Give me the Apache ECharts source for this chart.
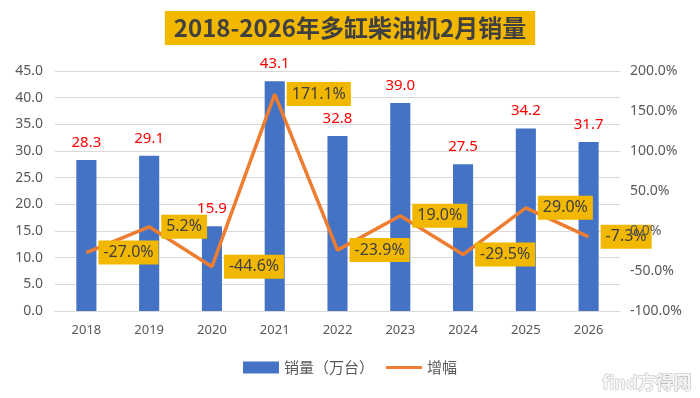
<!DOCTYPE html>
<html>
<head>
<meta charset="utf-8">
<script src="https://cdn.jsdelivr.net/npm/echarts@6/dist/echarts.min.js"></script>
<style>
  html, body { margin: 0; padding: 0; background: #fff; }
  #main { width: 700px; height: 398px; }
</style>
</head>
<body>
<div id="main"></div>
<script>
// 数据
var years = ['2018', '2019', '2020', '2021', '2022', '2023', '2024', '2025', '2026'];
var sales = [28.3, 29.1, 15.9, 43.1, 32.8, 39.0, 27.5, 34.2, 31.7];
var growth = [-27.0, 5.2, -44.6, 171.1, -23.9, 19.0, -29.5, 29.0, -7.3];

var chart = echarts.init(document.getElementById('main'));

var option = {
    backgroundColor: '#fff',
    animation: false,
    title: {
        text: '2018-2026年多缸柴油机2月销量',
        left: 'center',
        top: 11,
        padding: [5, 9],
        backgroundColor: '#F2B800',
        textStyle: {
            fontFamily: 'Noto Sans CJK SC',
            fontSize: 24,
            fontWeight: 'bold',
            color: '#404040'
        }
    },
    legend: {
        bottom: 18,
        left: 'center',
        itemGap: 12,
        itemWidth: 36,
        itemHeight: 12,
        textStyle: { fontFamily: 'Noto Sans CJK SC', fontSize: 15, color: '#595959' },
        data: [
            { name: '销量（万台）', icon: 'rect' },
            { name: '增幅', icon: 'path://M0,5 L40,5 L40,8.5 L0,8.5 Z', itemStyle: { color: '#ED7D31' } }
        ]
    },
    grid: { left: 55, right: 80, top: 71, bottom: 87 },
    xAxis: {
        type: 'category',
        data: years,
        axisLine: { lineStyle: { color: '#d9d9d9' } },
        axisTick: { show: false },
        axisLabel: { color: '#595959', fontSize: 13, margin: 13, fontFamily: 'Noto Sans' }
    },
    yAxis: [
        {
            type: 'value',
            min: 0, max: 45, interval: 5,
            axisLabel: {
                color: '#595959', fontSize: 14, margin: 12, fontFamily: 'Noto Sans',
                formatter: function (v) { return v.toFixed(1); }
            },
            splitLine: { lineStyle: { color: '#d9d9d9' } }
        },
        {
            type: 'value',
            min: -100, max: 200, interval: 50,
            z: 10,
            axisLabel: {
                color: '#595959', fontSize: 14, margin: 10, fontFamily: 'Noto Sans',
                formatter: function (v) { return v.toFixed(1) + '%'; }
            },
            splitLine: { show: false }
        }
    ],
    series: [
        {
            name: '销量（万台）',
            type: 'bar',
            data: sales,
            barWidth: '32%',
            itemStyle: { color: '#4472C4' },
            label: {
                show: true,
                position: 'top',
                distance: 10,
                color: '#FF0000',
                fontSize: 15,
                fontFamily: 'Noto Sans',
                formatter: function (p) { return p.value.toFixed(1); }
            }
        },
        {
            name: '增幅',
            type: 'line',
            yAxisIndex: 1,
            data: growth,
            symbol: 'circle',
            symbolSize: 0.01,
            showAllSymbol: true,
            lineStyle: { color: '#ED7D31', width: 3.5 },
            itemStyle: { color: '#ED7D31' },
            z: 3,
            label: {
                show: true,
                position: 'right',
                distance: 12,
                color: '#404040',
                fontSize: 16,
                fontFamily: 'Noto Sans',
                backgroundColor: '#F2B800',
                padding: [4, 5],
                formatter: function (p) { return p.value.toFixed(1) + '%'; }
            }
        }
    ],
    graphic: [
        {
            type: 'text',
            right: 8,
            bottom: 6,
            style: {
                text: 'find方得网',
                fontSize: 18,
                fontWeight: 'bold',
                fontFamily: 'Noto Sans CJK SC',
                fill: '#f4f4f4',
                stroke: '#bbbbbb',
                lineWidth: 1
            }
        }
    ]
};

chart.setOption(option);
</script>
</body>
</html>
